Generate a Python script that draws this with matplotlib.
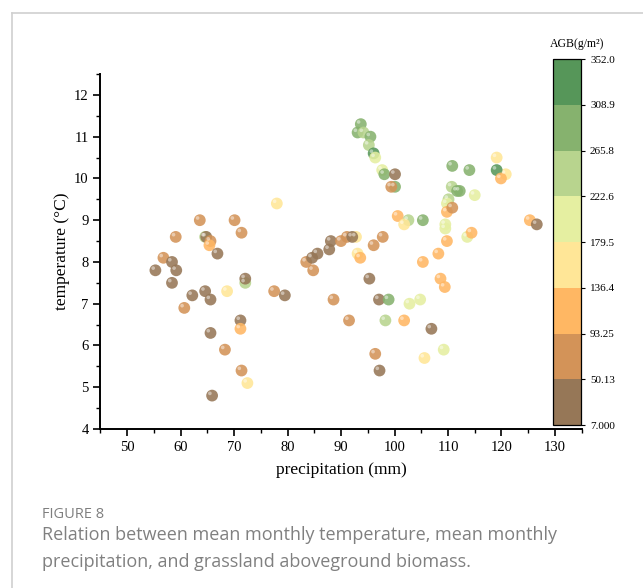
import numpy as np
import matplotlib
matplotlib.use("Agg")
import matplotlib.pyplot as plt
from matplotlib.colors import ListedColormap, BoundaryNorm
from matplotlib.lines import Line2D
import matplotlib.transforms as mtransforms

# precipitation (mm), temperature (°C), AGB (g/m2)
precip = [63.6, 70.1, 78.0, 71.4, 59.1, 64.6, 64.8, 65.6, 65.4, 66.9,
          56.8, 58.4, 55.3, 59.2, 58.4, 72.1, 72.1, 68.7, 62.2, 64.6,
          65.6, 60.7, 77.5, 79.5, 71.2, 71.2, 65.6, 68.3, 71.4, 72.5,
          65.9, 83.5, 84.6, 84.8, 93.7, 93.1, 94.2, 95.5, 95.2, 96.1,
          96.4, 97.7, 98.1, 100.1, 100.1, 99.4, 100.6, 102.6, 101.8, 105.3,
          110.8, 114.0, 119.1, 120.8, 119.1, 119.9, 110.7, 111.7, 112.2, 115.0,
          110.1, 109.8, 109.8, 110.8, 109.5, 109.5, 113.6, 114.4, 109.8, 108.2,
          105.3, 108.6, 109.4, 125.3, 126.6, 88.1, 90.0, 91.1, 92.8, 92.1,
          87.8, 85.6, 93.1, 93.6, 96.1, 97.8, 95.3, 88.6, 97.1, 98.9,
          102.8, 104.8, 91.5, 98.3, 101.8, 106.9, 109.2, 105.6, 96.4, 97.2]
temp = [9.0, 9.0, 9.4, 8.7, 8.6, 8.6, 8.6, 8.5, 8.4, 8.2,
        8.1, 8.0, 7.8, 7.8, 7.5, 7.5, 7.6, 7.3, 7.2, 7.3,
        7.1, 6.9, 7.3, 7.2, 6.6, 6.4, 6.3, 5.9, 5.4, 5.1,
        4.8, 8.0, 8.1, 7.8, 11.3, 11.1, 11.1, 11.0, 10.8, 10.6,
        10.5, 10.2, 10.1, 10.1, 9.8, 9.8, 9.1, 9.0, 8.9, 9.0,
        10.3, 10.2, 10.5, 10.1, 10.2, 10.0, 9.8, 9.7, 9.7, 9.6,
        9.5, 9.4, 9.2, 9.3, 8.9, 8.8, 8.6, 8.7, 8.5, 8.2,
        8.0, 7.6, 7.4, 9.0, 8.9, 8.5, 8.5, 8.6, 8.6, 8.6,
        8.3, 8.2, 8.2, 8.1, 8.4, 8.6, 7.6, 7.1, 7.1, 7.1,
        7.0, 7.1, 6.6, 6.6, 6.6, 6.4, 5.9, 5.7, 5.8, 5.4]
agb = [68, 88, 160, 72, 66, 240, 30, 80, 118, 35,
       70, 28, 32, 40, 25, 235, 30, 150, 15, 20,
       38, 78, 74, 36, 42, 112, 18, 65, 90, 165,
       33, 71, 27, 69, 290, 280, 250, 285, 245, 330,
       215, 195, 275, 22, 282, 60, 125, 238, 150, 278,
       288, 284, 155, 162, 325, 105, 250, 272, 268, 205,
       240, 200, 115, 85, 190, 185, 210, 100, 120, 128,
       110, 122, 108, 98, 26, 34, 76, 82, 145, 12,
       31, 37, 148, 102, 62, 79, 24, 67, 39, 292,
       208, 192, 73, 236, 118, 41, 198, 170, 64, 28]

bounds = [7.0, 50.13, 93.25, 136.4, 179.5, 222.6, 265.8, 308.9, 352.0]
bound_labels = ["7.000", "50.13", "93.25", "136.4", "179.5", "222.6", "265.8", "308.9", "352.0"]
colors = ["#967757", "#D39358", "#FFB763", "#FFE697",
          "#E5EFA1", "#B8D48E", "#86B26E", "#569659"]

cmap = ListedColormap(colors)
norm = BoundaryNorm(bounds, cmap.N)

plt.rcParams['font.family'] = ['Liberation Serif', 'DejaVu Serif']

fig = plt.figure(figsize=(6.43, 5.88), dpi=100)
ax = fig.add_axes([0.156, 0.2704, 0.7487, 0.6037])

sc = ax.scatter(precip, temp, c=agb, cmap=cmap, norm=norm, s=72,
                edgecolors='none', alpha=0.88, zorder=3)
# small highlight for the ball look
hl = mtransforms.offset_copy(ax.transData, fig=fig, x=-1.6, y=1.6, units='points')
ax.scatter(precip, temp, s=7, color='white', alpha=0.45, edgecolors='none',
           transform=hl, zorder=4)

ax.set_xlim(45, 135)
ax.set_ylim(4, 12.5)
ax.set_xticks(np.arange(50, 131, 10))
ax.set_xticks(np.arange(45, 136, 5), minor=True)
ax.set_yticks(np.arange(4, 13, 1))
ax.set_yticks(np.arange(4, 12.6, 0.5), minor=True)
for s in ['top', 'right']:
    ax.spines[s].set_visible(False)
for s in ['left', 'bottom']:
    ax.spines[s].set_linewidth(1.4)
ax.tick_params(which='major', direction='out', length=5, width=1.2, labelsize=10.5)
ax.tick_params(which='minor', direction='out', length=3, width=1.0)
ax.set_xlabel("precipitation (mm)", fontsize=12.5, labelpad=6)
ax.set_ylabel("temperature (°C)", fontsize=12.5, labelpad=3)

cax = fig.add_axes([0.8605, 0.2772, 0.0431, 0.6224])
cb = fig.colorbar(sc, cax=cax, ticks=bounds)
cb.solids.set_alpha(1)
cb.ax.set_yticklabels(bound_labels)
cb.ax.tick_params(labelsize=8, length=3, width=0.8)
cb.outline.set_linewidth(0.9)
cb.ax.text(0.85, 1.026, "AGB(g/m²)", transform=cb.ax.transAxes, fontsize=8.5,
           ha='center', va='bottom')

# frame and caption
fig.add_artist(Line2D([11.5 / 643, 11.5 / 643], [0, 1 - 13 / 588], color='#d0d0d0', lw=1.2))
fig.add_artist(Line2D([11.5 / 643, 1], [1 - 13 / 588, 1 - 13 / 588], color='#d0d0d0', lw=1.2))
fig.text(42 / 643, 1 - 514 / 588, "FIGURE 8", family='Open Sans', fontsize=10.5,
         color='#7f7f7f', va='center', ha='left')
fig.text(42 / 643, 1 - 535 / 588,
         "Relation between mean monthly temperature, mean monthly",
         family='Open Sans', fontsize=13, color='#808080', va='center', ha='left')
fig.text(42 / 643, 1 - 562 / 588,
         "precipitation, and grassland aboveground biomass.",
         family='Open Sans', fontsize=13, color='#808080', va='center', ha='left')

fig.savefig("out.png", dpi=100)
